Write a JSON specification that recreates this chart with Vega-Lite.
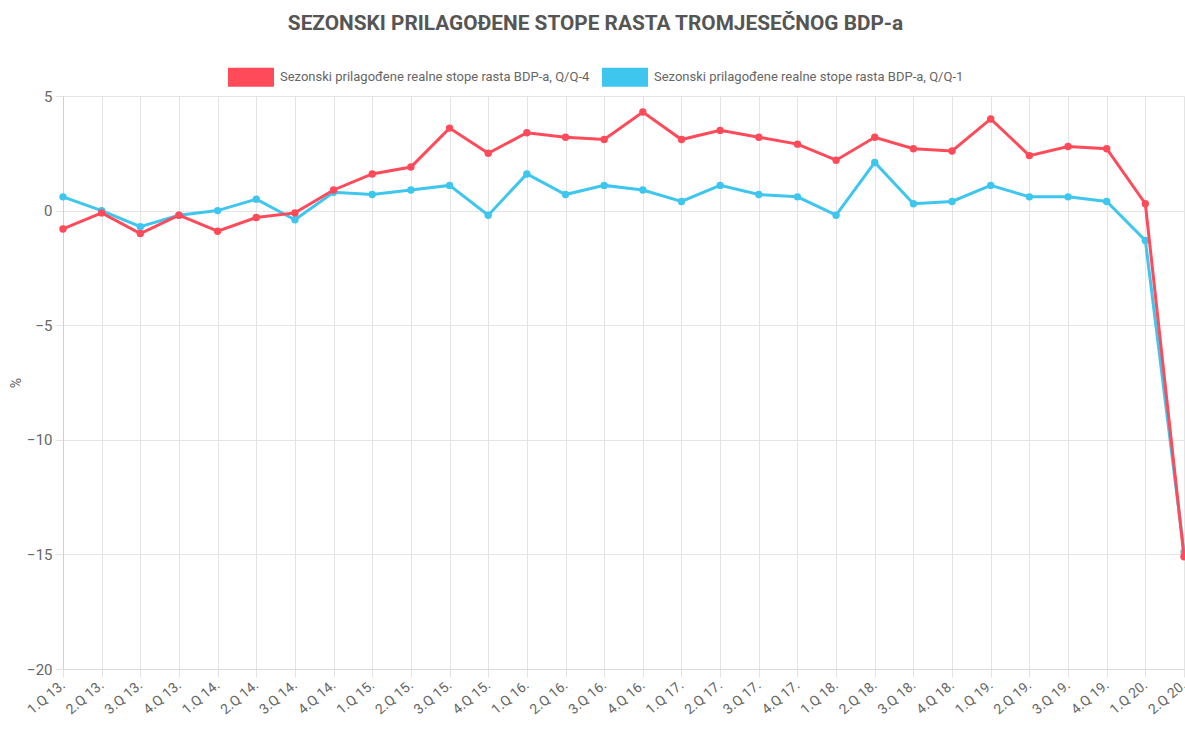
{
  "$schema": "https://vega.github.io/schema/vega-lite/v6.json",
  "width": 1121,
  "height": 573,
  "autosize": {"type": "none"},
  "padding": {"left": 63, "top": 96, "right": 1, "bottom": 68},
  "background": "white",
  "title": {
    "text": "SEZONSKI PRILAGOĐENE STOPE RASTA TROMJESEČNOG BDP-a",
    "font": "Roboto",
    "fontSize": 20.8,
    "fontWeight": "bold",
    "color": "#555555",
    "anchor": "middle",
    "offset": 19,
    "dx": -28
  },
  "config": {
    "view": {"stroke": null},
    "font": "Roboto"
  },
  "data": {
    "values": [
      {"q": "1.Q 13.", "s": "Q/Q-4", "v": -0.8}, {"q": "2.Q 13.", "s": "Q/Q-4", "v": -0.1},
      {"q": "3.Q 13.", "s": "Q/Q-4", "v": -1.0}, {"q": "4.Q 13.", "s": "Q/Q-4", "v": -0.2},
      {"q": "1.Q 14.", "s": "Q/Q-4", "v": -0.9}, {"q": "2.Q 14.", "s": "Q/Q-4", "v": -0.3},
      {"q": "3.Q 14.", "s": "Q/Q-4", "v": -0.1}, {"q": "4.Q 14.", "s": "Q/Q-4", "v": 0.9},
      {"q": "1.Q 15.", "s": "Q/Q-4", "v": 1.6}, {"q": "2.Q 15.", "s": "Q/Q-4", "v": 1.9},
      {"q": "3.Q 15.", "s": "Q/Q-4", "v": 3.6}, {"q": "4.Q 15.", "s": "Q/Q-4", "v": 2.5},
      {"q": "1.Q 16.", "s": "Q/Q-4", "v": 3.4}, {"q": "2.Q 16.", "s": "Q/Q-4", "v": 3.2},
      {"q": "3.Q 16.", "s": "Q/Q-4", "v": 3.1}, {"q": "4.Q 16.", "s": "Q/Q-4", "v": 4.3},
      {"q": "1.Q 17.", "s": "Q/Q-4", "v": 3.1}, {"q": "2.Q 17.", "s": "Q/Q-4", "v": 3.5},
      {"q": "3.Q 17.", "s": "Q/Q-4", "v": 3.2}, {"q": "4.Q 17.", "s": "Q/Q-4", "v": 2.9},
      {"q": "1.Q 18.", "s": "Q/Q-4", "v": 2.2}, {"q": "2.Q 18.", "s": "Q/Q-4", "v": 3.2},
      {"q": "3.Q 18.", "s": "Q/Q-4", "v": 2.7}, {"q": "4.Q 18.", "s": "Q/Q-4", "v": 2.6},
      {"q": "1.Q 19.", "s": "Q/Q-4", "v": 4.0}, {"q": "2.Q 19.", "s": "Q/Q-4", "v": 2.4},
      {"q": "3.Q 19.", "s": "Q/Q-4", "v": 2.8}, {"q": "4.Q 19.", "s": "Q/Q-4", "v": 2.7},
      {"q": "1.Q 20.", "s": "Q/Q-4", "v": 0.3}, {"q": "2.Q 20.", "s": "Q/Q-4", "v": -15.1},
      {"q": "1.Q 13.", "s": "Q/Q-1", "v": 0.6}, {"q": "2.Q 13.", "s": "Q/Q-1", "v": 0.0},
      {"q": "3.Q 13.", "s": "Q/Q-1", "v": -0.7}, {"q": "4.Q 13.", "s": "Q/Q-1", "v": -0.2},
      {"q": "1.Q 14.", "s": "Q/Q-1", "v": 0.0}, {"q": "2.Q 14.", "s": "Q/Q-1", "v": 0.5},
      {"q": "3.Q 14.", "s": "Q/Q-1", "v": -0.4}, {"q": "4.Q 14.", "s": "Q/Q-1", "v": 0.8},
      {"q": "1.Q 15.", "s": "Q/Q-1", "v": 0.7}, {"q": "2.Q 15.", "s": "Q/Q-1", "v": 0.9},
      {"q": "3.Q 15.", "s": "Q/Q-1", "v": 1.1}, {"q": "4.Q 15.", "s": "Q/Q-1", "v": -0.2},
      {"q": "1.Q 16.", "s": "Q/Q-1", "v": 1.6}, {"q": "2.Q 16.", "s": "Q/Q-1", "v": 0.7},
      {"q": "3.Q 16.", "s": "Q/Q-1", "v": 1.1}, {"q": "4.Q 16.", "s": "Q/Q-1", "v": 0.9},
      {"q": "1.Q 17.", "s": "Q/Q-1", "v": 0.4}, {"q": "2.Q 17.", "s": "Q/Q-1", "v": 1.1},
      {"q": "3.Q 17.", "s": "Q/Q-1", "v": 0.7}, {"q": "4.Q 17.", "s": "Q/Q-1", "v": 0.6},
      {"q": "1.Q 18.", "s": "Q/Q-1", "v": -0.2}, {"q": "2.Q 18.", "s": "Q/Q-1", "v": 2.1},
      {"q": "3.Q 18.", "s": "Q/Q-1", "v": 0.3}, {"q": "4.Q 18.", "s": "Q/Q-1", "v": 0.4},
      {"q": "1.Q 19.", "s": "Q/Q-1", "v": 1.1}, {"q": "2.Q 19.", "s": "Q/Q-1", "v": 0.6},
      {"q": "3.Q 19.", "s": "Q/Q-1", "v": 0.6}, {"q": "4.Q 19.", "s": "Q/Q-1", "v": 0.4},
      {"q": "1.Q 20.", "s": "Q/Q-1", "v": -1.3}, {"q": "2.Q 20.", "s": "Q/Q-1", "v": -14.9}
    ]
  },
  "layer": [
    {
      "mark": {"type": "rule", "color": "#c4c4c4", "strokeWidth": 1},
      "encoding": {"y": {"datum": 0, "type": "quantitative", "scale": {"domain": [-20, 5]}}}
    },
    {
      "transform": [{"filter": "datum.s === 'Q/Q-1'"}],
      "mark": {"type": "line", "strokeWidth": 3, "point": {"filled": true, "size": 55}},
      "encoding": {
        "x": {"field": "q", "type": "ordinal", "sort": null},
        "y": {"field": "v", "type": "quantitative"},
        "color": {"field": "s", "type": "nominal"}
      }
    },
    {
      "transform": [{"filter": "datum.s === 'Q/Q-4'"}],
      "mark": {"type": "line", "strokeWidth": 3, "point": {"filled": true, "size": 55}},
      "encoding": {
        "x": {"field": "q", "type": "ordinal", "sort": null},
        "y": {"field": "v", "type": "quantitative"},
        "color": {"field": "s", "type": "nominal"}
      }
    }
  ],
  "resolve": {"scale": {"y": "shared"}},
  "encoding": {
    "x": {
      "field": "q",
      "type": "ordinal",
      "sort": null,
      "title": null,
      "scale": {"type": "point", "padding": 0},
      "axis": {
        "labelAngle": -40,
        "labelAlign": "right",
        "labelBaseline": "middle",
        "labelPadding": 6,
        "labelFontSize": 14,
        "labelColor": "#666666",
        "tickSize": 8,
        "tickColor": "#e4e4e4",
        "grid": true,
        "gridColor": "#e4e4e4",
        "domainColor": "#d8d8d8",
        "labelOverlap": false
      }
    },
    "y": {
      "type": "quantitative",
      "title": "%",
      "scale": {"domain": [-20, 5], "nice": false, "zero": false},
      "axis": {
        "values": [-20, -15, -10, -5, 0, 5],
        "labelFontSize": 15,
        "labelColor": "#666666",
        "labelPadding": 3,
        "tickSize": 8,
        "tickColor": "#e4e4e4",
        "grid": true,
        "gridColor": "#e4e4e4",
        "domainColor": "#d0d0d0",
        "titleFontSize": 14,
        "titleColor": "#666666",
        "titleFontWeight": "normal",
        "titlePadding": 3
      }
    },
    "color": {
      "field": "s",
      "type": "nominal",
      "scale": {
        "domain": ["Q/Q-4", "Q/Q-1"],
        "range": ["#ff4a5a", "#3ec6ef"]
      },
      "legend": {
        "title": null,
        "orient": "none",
        "direction": "horizontal",
        "legendX": 165,
        "legendY": -42,
        "symbolType": "M-1,-0.41H1V0.41H-1Z",
        "symbolSize": 2116,
        "symbolStrokeWidth": 0,
        "symbolOpacity": 1,
        "labelFontSize": 13,
        "labelColor": "#666666",
        "labelOffset": 6,
        "labelLimit": 0,
        "columnPadding": 12,
        "labelExpr": "'Sezonski prilagođene realne stope rasta BDP-a, ' + datum.label",
        "encode": {
          "symbols": {"update": {"fill": {"scale": "color", "field": "value"}, "opacity": {"value": 1}}}
        }
      }
    }
  }
}
